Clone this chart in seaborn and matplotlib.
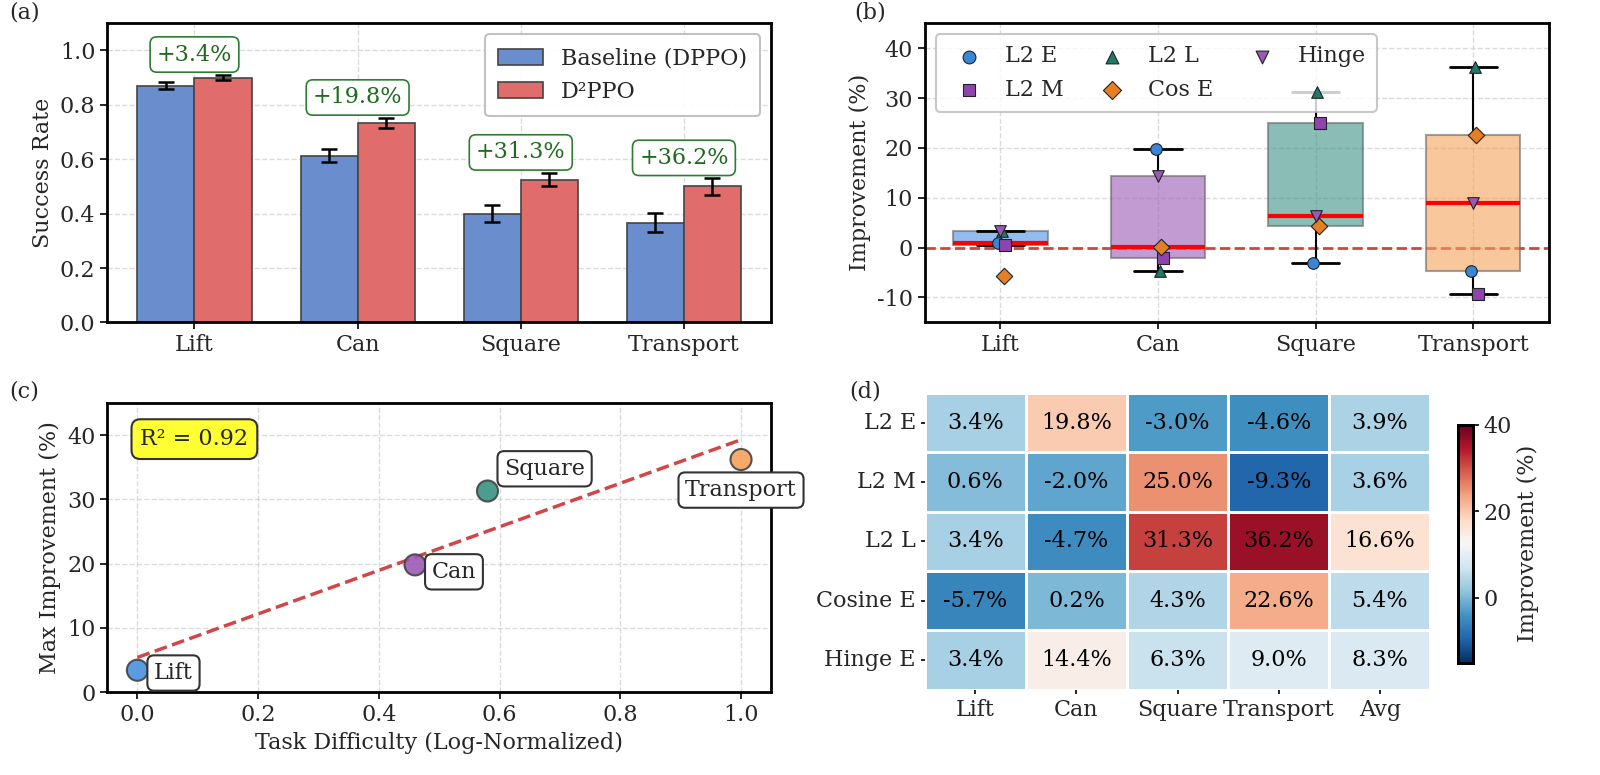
import numpy as np
import pandas as pd
import seaborn as sns
import matplotlib.pyplot as plt

sns.set_theme(style="whitegrid")
plt.rcParams['font.family'] = ['DejaVu Serif']
plt.rcParams['axes.edgecolor'] = 'black'
plt.rcParams['axes.unicode_minus'] = False

# ---- data ----
tasks = ['Lift', 'Can', 'Square', 'Transport']

# (a) success rates
baseline = [0.870, 0.613, 0.400, 0.367]
baseline_err = [0.013, 0.025, 0.030, 0.035]
d2ppo = [0.900, 0.734, 0.525, 0.500]
d2ppo_err = [0.010, 0.018, 0.025, 0.030]
gain_labels = ['+3.4%', '+19.8%', '+31.3%', '+36.2%']

# (b) improvement per loss variant (%)
box_methods = ['L2 E', 'L2 M', 'L2 L', 'Cos E', 'Hinge']
box_l2e = [1.0, 19.8, -3.0, -4.6]
box_l2m = [0.6, -2.0, 25.0, -9.3]
box_l2l = [3.4, -4.7, 31.3, 36.2]
box_cose = [-5.7, 0.2, 4.3, 22.6]
box_hinge = [3.4, 14.4, 6.3, 9.0]

# (c) difficulty vs max improvement
difficulty = [0.0, 0.46, 0.58, 1.0]
max_improvement = [3.4, 19.8, 31.3, 36.2]
r2_text = 'R² = 0.92'

# (d) heatmap
heat_rows = ['L2 E', 'L2 M', 'L2 L', 'Cosine E', 'Hinge E']
heat_cols = ['Lift', 'Can', 'Square', 'Transport', 'Avg']
heat_l2e = [3.4, 19.8, -3.0, -4.6, 3.9]
heat_l2m = [0.6, -2.0, 25.0, -9.3, 3.6]
heat_l2l = [3.4, -4.7, 31.3, 36.2, 16.6]
heat_cose = [-5.7, 0.2, 4.3, 22.6, 5.4]
heat_hinge = [3.4, 14.4, 6.3, 9.0, 8.3]

task_colors = ['#4a90e2', '#9b59b6', '#3a9184', '#f5a25a']
method_colors = ['#3a86d4', '#8e44ad', '#1f7a6a', '#e67e22', '#9b59b6']
method_markers = ['o', 's', '^', 'D', 'v']
method_offsets = [-0.015, 0.03, 0.01, 0.02, 0.0]

FS = 16

fig = plt.figure(figsize=(16, 7.75), dpi=100)
ax_a = fig.add_axes([0.067, 0.584, 0.415, 0.386])
ax_b = fig.add_axes([0.578, 0.584, 0.390, 0.386])
ax_c = fig.add_axes([0.067, 0.107, 0.415, 0.373])
ax_d = fig.add_axes([0.578, 0.110, 0.316, 0.383])
cax = fig.add_axes([0.911, 0.145, 0.0094, 0.307])


def style_axes(ax):
    for s in ax.spines.values():
        s.set_linewidth(2)
        s.set_color('black')
    ax.grid(True, linestyle='--', color='#cccccc', alpha=0.7, linewidth=1)
    ax.tick_params(axis='both', labelsize=FS, length=5, width=1.2,
                   bottom=True, left=True, direction='out', color='black')


# ---- (a) ----
df_a = pd.DataFrame({
    'task': tasks * 2,
    'rate': baseline + d2ppo,
    'method': ['Baseline (DPPO)'] * 4 + ['D²PPO'] * 4,
})
sns.barplot(data=df_a, x='task', y='rate', hue='method',
            palette=['#6a8dcd', '#e06c6c'], errorbar=None, width=0.7,
            saturation=1, edgecolor='#444444', linewidth=1.2, ax=ax_a)
bars = ax_a.patches[:8]
errs = baseline_err + d2ppo_err
vals = baseline + d2ppo
for b, v, e in zip(bars, vals, errs):
    ax_a.errorbar(b.get_x() + b.get_width() / 2, v, yerr=e, fmt='none',
                  ecolor='black', elinewidth=1.8, capsize=6, capthick=1.8, zorder=5)
for i, lab in enumerate(gain_labels):
    top = max(d2ppo[i] + d2ppo_err[i], baseline[i] + baseline_err[i])
    ax_a.text(i, top + 0.075, lab, ha='center', va='center', fontsize=FS,
              color='#1e6b1e',
              bbox=dict(boxstyle='round,pad=0.3', facecolor='white',
                        edgecolor='#2e7d32', linewidth=1.2))
ax_a.set_ylim(0, 1.1)
ax_a.set_yticks([0, 0.2, 0.4, 0.6, 0.8, 1.0])
ax_a.set_xlabel('')
ax_a.set_ylabel('Success Rate', fontsize=FS)
style_axes(ax_a)
ax_a.set_axisbelow(True)
leg = ax_a.legend(loc='upper right', fontsize=FS, frameon=True, fancybox=True,
                  framealpha=0.9, edgecolor='#bbbbbb', borderpad=0.6)
leg.get_frame().set_linewidth(1.5)

# ---- (b) ----
box_lists = [box_l2e, box_l2m, box_l2l, box_cose, box_hinge]
df_b = pd.DataFrame({
    'task': tasks * len(box_methods),
    'value': sum(box_lists, []),
    'method': [m for m in box_methods for _ in tasks],
})
sns.boxplot(data=df_b, x='task', y='value', hue='task', palette=task_colors,
            width=0.6, showfliers=False, linecolor='#666666', linewidth=1.5,
            saturation=1, boxprops={'alpha': 0.6},
            medianprops={'color': 'red', 'linewidth': 3, 'alpha': 1},
            whiskerprops={'color': 'black', 'linewidth': 1.5},
            capprops={'color': 'black', 'linewidth': 2},
            legend=False, ax=ax_b)
ax_b.axhline(0, color='#c0392b', linestyle='--', linewidth=2, alpha=0.9, zorder=1)
for m, vals_m, col, mk, off in zip(box_methods, box_lists, method_colors,
                                   method_markers, method_offsets):
    xs = np.arange(len(tasks)) + off
    ax_b.scatter(xs, vals_m, marker=mk, s=70, color=col, edgecolor='#222222',
                 linewidth=0.8, zorder=6, label=m)
ax_b.set_ylim(-15, 45)
ax_b.set_yticks([-10, 0, 10, 20, 30, 40])
ax_b.set_xlabel('')
ax_b.set_ylabel('Improvement (%)', fontsize=FS)
style_axes(ax_b)
leg_b = ax_b.legend(loc='upper left', ncol=3, fontsize=FS, frameon=True,
                    fancybox=True, framealpha=0.8, edgecolor='#bbbbbb',
                    columnspacing=1.2, handletextpad=0.6, borderpad=0.5,
                    markerscale=1.1)
leg_b.get_frame().set_linewidth(1.5)

# ---- (c) ----
df_c = pd.DataFrame({'task': tasks, 'difficulty': difficulty,
                     'improvement': max_improvement})
sns.scatterplot(data=df_c, x='difficulty', y='improvement', hue='task',
                palette=task_colors, s=230, edgecolor='#444444', linewidth=1.5,
                alpha=0.9, legend=False, zorder=5, ax=ax_c)
slope, intercept = np.polyfit(difficulty, max_improvement, 1)
xl = np.array([min(difficulty), max(difficulty)])
ax_c.plot(xl, slope * xl + intercept, linestyle='--', color='#cc3333',
          linewidth=2.5, alpha=0.9, zorder=4)
label_offsets = {'Lift': (12, -2, 'left'), 'Can': (12, -5, 'left'),
                 'Square': (12, 16, 'left'), 'Transport': (0, -22, 'center')}
for t, xv, yv in zip(tasks, difficulty, max_improvement):
    dx, dy, ha = label_offsets[t]
    ax_c.annotate(t, (xv, yv), xytext=(dx, dy), textcoords='offset points',
                  ha=ha, va='center', fontsize=FS, zorder=7,
                  bbox=dict(boxstyle='round,pad=0.3', facecolor='white',
                            edgecolor='#333333', linewidth=1.5))
ax_c.text(0.05, 0.875, r2_text, transform=ax_c.transAxes, fontsize=FS,
          va='center', ha='left',
          bbox=dict(boxstyle='round,pad=0.4', facecolor='#ffff33',
                    edgecolor='#333333', linewidth=1.5))
ax_c.set_xlim(-0.05, 1.05)
ax_c.set_ylim(0, 45)
ax_c.set_yticks([0, 10, 20, 30, 40])
ax_c.set_xlabel('Task Difficulty (Log-Normalized)', fontsize=FS)
ax_c.set_ylabel('Max Improvement (%)', fontsize=FS)
style_axes(ax_c)

# ---- (d) ----
heat = pd.DataFrame([heat_l2e, heat_l2m, heat_l2l, heat_cose, heat_hinge],
                    index=heat_rows, columns=heat_cols)
annot = heat.map(lambda v: f'{v:.1f}%')
sns.heatmap(heat, annot=annot, fmt='', cmap='RdBu_r', vmin=-15, vmax=40,
            linewidths=2, linecolor='white', annot_kws={'fontsize': FS, 'color': 'black'},
            cbar_ax=cax, cbar_kws={'label': 'Improvement (%)'}, ax=ax_d)
ax_d.tick_params(axis='both', labelsize=FS, length=3, width=1.2,
                 bottom=True, left=True, color='black')
ax_d.set_yticklabels(heat_rows, rotation=0)
ax_d.set_xlabel('')
ax_d.set_ylabel('')
cax.set_yticks([0, 20, 40])
cax.tick_params(labelsize=FS, length=4, width=1.2, right=True, color='black')
cax.yaxis.label.set_size(FS)
for s in cax.spines.values():
    s.set_visible(True)
    s.set_linewidth(2)
    s.set_color('black')

for lab, (x, y) in zip(['(a)', '(b)', '(c)', '(d)'],
                       [(0.006, 0.970), (0.534, 0.970), (0.006, 0.481), (0.531, 0.481)]):
    fig.text(x, y, lab, fontsize=FS, va='bottom', ha='left')

fig.savefig('out.png', dpi=100)
